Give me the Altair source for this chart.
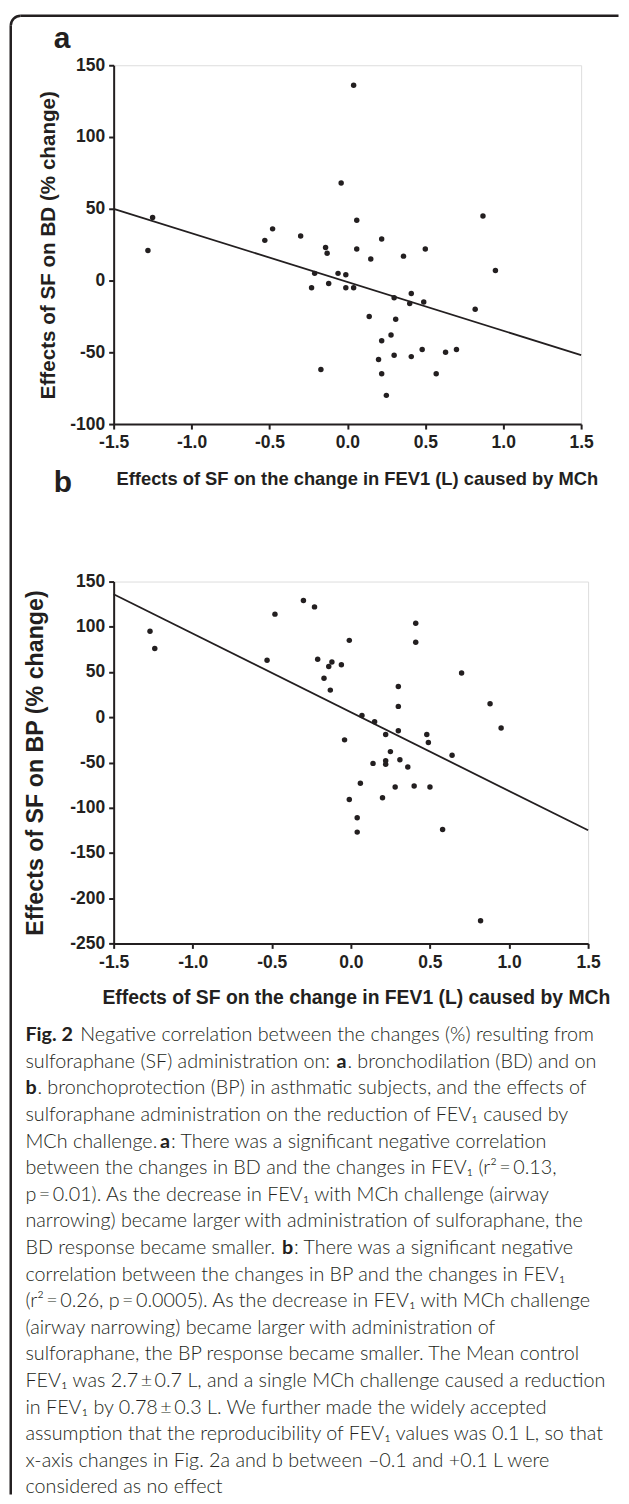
import altair as alt
import pandas as pd

# ---------------- data ----------------
A_X = [0.04, -0.04, -1.25, 0.87, 0.06, -0.48, -0.30, -0.53, 0.22,
       -1.28, -0.14, -0.13, 0.06, 0.50, 0.15, 0.36, 0.95,
       -0.21, -0.06, -0.01, -0.23, -0.12, -0.01, 0.04,
       0.30, 0.41, 0.40, 0.49, 0.82, 0.14, 0.31,
       0.28, 0.22, 0.48, 0.70, 0.63, 0.30, 0.41, 0.20,
       -0.17, 0.22, 0.57, 0.25]
A_Y = [136, 68, 44, 45, 42, 36, 31, 28, 29,
       21, 23, 19, 22, 22, 15, 17, 7,
       5, 5, 4, -5, -2, -5, -5,
       -12, -9, -16, -15, -20, -25, -27,
       -38, -42, -48, -48, -50, -52, -53, -55,
       -62, -65, -65, -80]

B_X = [-1.27, -1.24, -0.48, -0.30, -0.23, 0.41, 0.41, -0.01, -0.53, -0.21,
       -0.12, -0.14, -0.06, -0.17, -0.13, 0.70, 0.30, 0.30, 0.88, 0.07,
       0.15, 0.30, 0.95, 0.22, 0.48, 0.49, -0.04, 0.25, 0.14, 0.22,
       0.22, 0.31, 0.36, 0.64, 0.06, 0.28, 0.40, 0.50, -0.01, 0.20,
       0.04, 0.04, 0.58, 0.82]
B_Y = [95, 76, 114, 129, 122, 104, 83, 85, 63, 64,
       61, 56, 58, 43, 30, 49, 34, 12, 15, 2,
       -5, -15, -12, -19, -19, -28, -25, -38, -51, -48,
       -52, -47, -55, -42, -73, -77, -76, -77, -91, -89,
       -111, -127, -124, -225]

FIT_X = [-1.5, 1.5]
FIT_A_Y = [50, -52]
FIT_B_Y = [136, -125]

X_TICKS = [-1.5, -1.0, -0.5, 0.0, 0.5, 1.0, 1.5]
A_Y_TICKS = [-100, -50, 0, 50, 100, 150]
B_Y_TICKS = [-250, -200, -150, -100, -50, 0, 50, 100, 150]

X_TITLE = "Effects of SF on the change in FEV1 (L) caused by MCh"
A_Y_TITLE = "Effects of SF on BD (% change)"
B_Y_TITLE = "Effects of SF on BP (% change)"
PANEL_LABELS = ["a", "b"]

T = "\u2009"
CAPTION_LINE = [0, 0, 1, 1, 1, 2, 2, 3, 4, 4, 4, 5, 6, 7, 8, 8, 8, 9, 10, 11, 12, 13, 14, 15, 16, 17]
CAPTION_TEXT = [
    "Fig. 2", "Negative correlation between the changes (%) resulting from",
    "sulforaphane (SF) administration on:", "a", ". bronchodilation (BD) and on",
    "b", ". bronchoprotection (BP) in asthmatic subjects, and the effects of",
    "sulforaphane administration on the reduction of FEV\u2081 caused by",
    "MCh challenge.", "a", ": There was a significant negative correlation",
    f"between the changes in BD and the changes in FEV\u2081 (r\u00b2{T}={T}0.13,",
    f"p{T}={T}0.01). As the decrease in FEV\u2081 with MCh challenge (airway",
    "narrowing) became larger with administration of sulforaphane, the",
    "BD response became smaller.", "b", ": There was a significant negative",
    "correlation between the changes in BP and the changes in FEV\u2081",
    f"(r\u00b2{T}={T}0.26, p{T}={T}0.0005). As the decrease in FEV\u2081 with MCh challenge",
    "(airway narrowing) became larger with administration of",
    "sulforaphane, the BP response became smaller. The Mean control",
    f"FEV\u2081 was 2.7{T}\u00b1{T}0.7 L, and a single MCh challenge caused a reduction",
    f"in FEV\u2081 by 0.78{T}\u00b1{T}0.3 L. We further made the widely accepted",
    "assumption that the reproducibility of FEV\u2081 values was 0.1 L, so that",
    "x-axis changes in Fig. 2a and b between \u20130.1 and +0.1 L were",
    "considered as no effect",
]
CAPTION_BOLD = [True, False, False, True, False, True, False, False, False, True, False,
                False, False, False, False, True, False, False, False, False, False,
                False, False, False, False, False]

# ---------------- layout (page pixels) ----------------
OX, OY = 113.5, 62.0            # page position of panel a plot origin
CAPTION_SEG_PAGE_X = [25, 80, 25, 337, 348, 25, 37, 25, 25, 160, 171, 25, 25, 25,
                      25, 282.5, 294.5, 25, 25, 25, 25, 25, 25, 25, 25, 25]
A_W, A_H = 469, 360
B_W, B_H = 476, 363
GAP = 158
CAP_TOP_PAGE = OY + A_H + GAP + B_H + GAP
CAP_LINE0_PAGE = 1035.0
CAP_LINE_STEP = 26.7

INK = "#231f20"
LFONT = "Liberation Sans"
CFONT = "Lato"
CSIZE = 19.8

neg = "(datum.value < 0 ? '-' : '') + "


def xaxis(label_size, title_size, title_pad, title_x):
    return alt.Axis(values=X_TICKS, labelExpr=neg + "format(abs(datum.value), '.1f')",
                    title=X_TITLE, grid=False, domainColor=INK, domainWidth=2,
                    tickColor=INK, tickWidth=2, tickSize=5, labelFont=LFONT,
                    labelFontSize=label_size, labelFontWeight="bold", labelColor=INK,
                    labelPadding=5, labelFlush=False, labelOverlap=False,
                    titleFont=LFONT, titleFontSize=title_size, titleFontWeight="bold",
                    titleColor=INK, titlePadding=title_pad, titleX=title_x, titleAlign="center")


def yaxis(values, title, label_size, title_size, title_pad):
    return alt.Axis(values=values, labelExpr=neg + "format(abs(datum.value), 'd')",
                    title=title, grid=False, domainColor=INK, domainWidth=2,
                    tickColor=INK, tickWidth=2, tickSize=5, labelFont=LFONT,
                    labelFontSize=label_size, labelFontWeight="bold", labelColor=INK,
                    labelPadding=4, labelFlush=False, labelOverlap=False,
                    titleFont=LFONT, titleFontSize=title_size, titleFontWeight="bold",
                    titleColor=INK, titlePadding=title_pad)


def panel(xs, ys, fit_y, ydomain, yticks, ytitle, label, label_size,
          xt_size, xt_pad, xt_x, yt_size, yt_pad, label_xy):
    pts = pd.DataFrame({"x": xs, "y": ys})
    fit = pd.DataFrame({"x": FIT_X, "y": fit_y})
    X = alt.X("x:Q", scale=alt.Scale(domain=[-1.5, 1.5], nice=False, zero=False),
              axis=xaxis(label_size, xt_size, xt_pad, xt_x))
    Y = alt.Y("y:Q", scale=alt.Scale(domain=ydomain, nice=False, zero=False),
              axis=yaxis(yticks, ytitle, label_size, yt_size, yt_pad))
    dots = alt.Chart(pts).mark_circle(size=30, color=INK, opacity=1).encode(x=X, y=Y)
    line = alt.Chart(fit).mark_line(color=INK, strokeWidth=1.8).encode(x=X, y=Y)
    lab = alt.Chart(pd.DataFrame({"t": [label]})).mark_text(
        font=LFONT, fontSize=30, fontWeight="bold", color=INK, align="left",
        baseline="alphabetic").encode(x=alt.value(label_xy[0]), y=alt.value(label_xy[1]), text="t:N")
    return [line, dots, lab]


# border (left and top edges with rounded corner), panel-a relative coordinates
bl_x = 10.25 - OX
bt_y = 12.25 - OY
R = 10
dummy = pd.DataFrame({"k": [0]})
border_left = alt.Chart(dummy).mark_rule(color=INK, strokeWidth=2.5).encode(
    x=alt.value(bl_x), y=alt.value(bt_y + R), y2=alt.value(1496 - OY))
border_top = alt.Chart(dummy).mark_rule(color=INK, strokeWidth=2.5).encode(
    x=alt.value(bl_x + R), x2=alt.value(620 - OX), y=alt.value(bt_y))
border_corner = alt.Chart(dummy).mark_arc(
    theta=4.71239, theta2=6.28319, radius=R + 1.25, radius2=R - 1.25, color=INK).encode(
    x=alt.value(bl_x + R), y=alt.value(bt_y + R))

la = panel(A_X, A_Y, FIT_A_Y, [-100, 150], A_Y_TICKS, A_Y_TITLE, PANEL_LABELS[0], 17.5,
           18.4, 18, 357.5 - OX, 20.7, 11.5, (-60, 45 - OY))
chart_a = alt.layer(border_left, border_top, border_corner, *la).properties(width=A_W, height=A_H)

lb = panel(B_X, B_Y, FIT_B_Y, [-250, 150], B_Y_TICKS, B_Y_TITLE, PANEL_LABELS[1], 17.5,
           19.4, 18, 356.5 - OX, 23.3, 22.5, (-60, 490 - (OY + A_H + GAP)))
chart_b = alt.layer(*lb).properties(width=B_W, height=B_H)

cap = pd.DataFrame({"line": CAPTION_LINE, "text": CAPTION_TEXT, "bold": CAPTION_BOLD,
                    "xr": [v - OX for v in CAPTION_SEG_PAGE_X]})
y0 = CAP_LINE0_PAGE - CAP_TOP_PAGE
cap_base = alt.Chart(cap).encode(
    x=alt.X("xr:Q", scale=None, axis=None),
    y=alt.Y("line:Q", scale=alt.Scale(domain=[0, 17], range=[y0, y0 + 17 * CAP_LINE_STEP]), axis=None),
    text="text:N")
cap_reg = cap_base.transform_filter("!datum.bold").mark_text(
    font=CFONT, fontSize=CSIZE, fontWeight=300, color=INK, align="left", baseline="middle")
cap_bold = cap_base.transform_filter("datum.bold").mark_text(
    font=CFONT, fontSize=CSIZE, fontWeight="bold", color=INK, align="left", baseline="middle")
chart_c = alt.layer(cap_reg, cap_bold).properties(
    width=A_W, height=20, view=alt.ViewConfig(stroke="transparent", strokeWidth=0))

chart = alt.vconcat(chart_a, chart_b, chart_c, spacing=GAP, bounds="flush").properties(
    padding={"left": 1, "top": 3, "right": 0, "bottom": 0}
).configure_view(stroke="transparent", strokeWidth=0).configure(background="white")

chart.save("out.html", embed_options={"renderer": "svg", "actions": False})
